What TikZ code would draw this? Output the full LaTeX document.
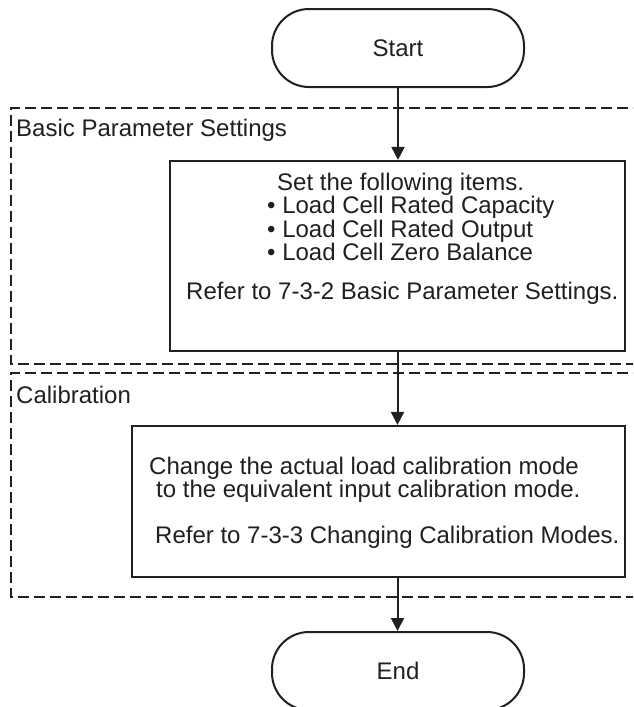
\documentclass[tikz,border=0pt]{standalone}
\usepackage{fontspec}
\setmainfont{Liberation Sans}
\usetikzlibrary{arrows.meta}
\definecolor{ink}{RGB}{35,31,32}
\tikzset{
  terminal/.style={draw=ink, line width=2pt, rounded corners=37pt, minimum width=252pt, minimum height=78pt, inner sep=0pt, font=\fontsize{24}{26}\selectfont, text=ink},
  procbox/.style={draw=ink, line width=2.2pt, inner sep=0pt},
  txt/.style={anchor=base west, inner sep=0pt, font=\fontsize{24}{26}\selectfont, text=ink},
  group/.style={draw=ink, line width=1.5pt, dash pattern=on 11pt off 5pt},
  flow/.style={draw=ink, line width=2pt, -{Triangle[length=13pt,width=13pt]}}
}
\begin{document}
\begin{tikzpicture}[x=1pt,y=-1pt]
\clip (0,0) rectangle (633,707);
\fill[white] (0,0) rectangle (633,707);

% group frames
\draw[group] (660,108) -- (11,108) -- (11,364) -- (660,364);
\draw[group] (660,373) -- (11,373) -- (11,597) -- (660,597);
\node[txt] (lblA) at (16,136) {Basic Parameter Settings};
\node[txt] (lblB) at (16,403) {Calibration};

% terminals
\node[terminal] (start) at (398,48) {Start};
\node[terminal] (end) at (398,671) {End};

% process boxes
\node[procbox, minimum width=455pt, minimum height=190pt] (box1) at (397.5,256) {};
\node[procbox, minimum width=493pt, minimum height=151pt] (box2) at (378.5,501.5) {};

% box 1 text
\node[txt] (b1l1) at (277,190) {Set the following items.};
\node[txt] (b1l2) at (267,213.5) {• Load Cell Rated Capacity};
\node[txt] (b1l3) at (267,237) {• Load Cell Rated Output};
\node[txt] (b1l4) at (267,260.5) {• Load Cell Zero Balance};
\node[txt] (b1l5) at (186,299) {Refer to 7-3-2 Basic Parameter Settings.};

% box 2 text
\node[txt] (b2l1) at (149,474) {Change the actual load calibration mode};
\node[txt] (b2l2) at (156,497.5) {to the equivalent input calibration mode.};
\node[txt] (b2l3) at (155,543) {Refer to 7-3-3 Changing Calibration Modes.};

% connectors
\coordinate (s1) at (start.south);
\coordinate (t1) at (start.south |- box1.north);
\draw[flow] (s1) -- (t1);
\coordinate (s2) at (box1.south);
\coordinate (t2) at (box1.south |- box2.north);
\draw[flow] (s2) -- (t2);
\coordinate (s3) at (box1.south |- box2.south);
\coordinate (t3) at (box1.south |- end.north);
\draw[flow] (s3) -- (t3);
\end{tikzpicture}
\end{document}
